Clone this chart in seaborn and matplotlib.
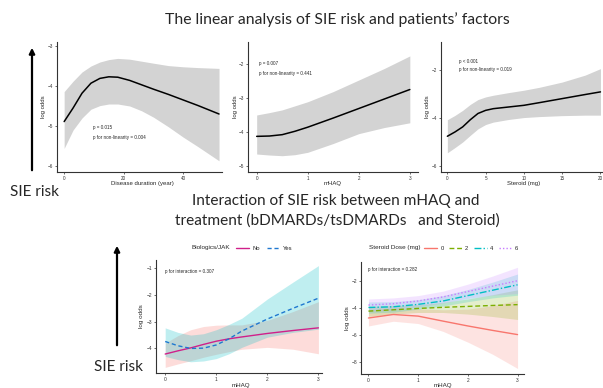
import matplotlib
matplotlib.use("Agg")
import matplotlib.pyplot as plt
import seaborn as sns

# ---- top row: restricted cubic spline fits (log odds) ----
dur_x = [0, 3, 6, 9, 12, 15, 18, 22, 26, 30, 35, 40, 45, 52]
dur_fit = [-4.89, -4.55, -4.18, -3.93, -3.81, -3.77, -3.78, -3.86, -3.97, -4.08, -4.21, -4.35, -4.49, -4.70]
dur_hi = [-4.14, -3.88, -3.65, -3.50, -3.40, -3.34, -3.31, -3.33, -3.38, -3.43, -3.49, -3.52, -3.54, -3.56]
dur_lo = [-5.56, -5.10, -4.80, -4.58, -4.49, -4.45, -4.45, -4.50, -4.62, -4.78, -5.02, -5.28, -5.52, -5.87]

haq_x = [0, 0.25, 0.5, 0.75, 1, 1.5, 2, 2.5, 3]
haq_fit = [-4.12, -4.11, -4.07, -3.97, -3.85, -3.58, -3.30, -3.02, -2.74]
haq_hi = [-3.49, -3.42, -3.34, -3.22, -3.10, -2.80, -2.46, -2.12, -1.75]
haq_lo = [-4.64, -4.67, -4.69, -4.66, -4.59, -4.33, -4.04, -3.86, -3.72]

ster_x = [0, 1, 2, 3, 4, 5, 6, 8, 10, 12, 15, 18, 20]
ster_fit = [-4.75, -4.57, -4.36, -4.06, -3.80, -3.67, -3.60, -3.53, -3.46, -3.35, -3.18, -3.01, -2.90]
ster_hi = [-4.06, -3.88, -3.67, -3.42, -3.22, -3.11, -3.04, -2.93, -2.83, -2.71, -2.49, -2.20, -1.93]
ster_lo = [-5.44, -5.22, -4.99, -4.71, -4.44, -4.26, -4.16, -4.05, -3.97, -3.93, -3.89, -3.87, -3.87]

# ---- bottom left: mHAQ x Biologics/JAK ----
bio_x = [0, 0.25, 0.5, 0.75, 1, 1.25, 1.5, 2, 2.5, 3]
no_fit = [-4.21, -4.09, -3.98, -3.85, -3.73, -3.64, -3.57, -3.44, -3.33, -3.23]
no_hi = [-3.80, -3.52, -3.30, -3.18, -3.13, -3.12, -3.12, -2.95, -2.62, -2.25]
no_lo = [-4.71, -4.58, -4.46, -4.33, -4.22, -4.12, -4.03, -3.96, -4.03, -4.20]
yes_fit = [-3.74, -3.90, -4.00, -3.99, -3.87, -3.64, -3.35, -2.90, -2.50, -2.12]
yes_hi = [-3.23, -3.40, -3.50, -3.45, -3.30, -3.10, -2.87, -2.15, -1.52, -0.90]
yes_lo = [-4.30, -4.42, -4.50, -4.47, -4.38, -4.20, -3.96, -3.58, -3.40, -3.28]

# ---- bottom right: mHAQ x steroid dose ----
dose_x = [0, 0.5, 1, 1.5, 2, 2.5, 3]
dose_levels = ["0", "2", "4", "6"]
dose_fit = {
    "0": [-4.71, -4.45, -4.57, -4.94, -5.30, -5.63, -5.94],
    "2": [-4.20, -4.10, -4.00, -3.92, -3.85, -3.78, -3.72],
    "4": [-3.93, -3.88, -3.70, -3.45, -3.05, -2.65, -2.25],
    "6": [-3.75, -3.65, -3.45, -3.15, -2.75, -2.35, -1.95],
}
dose_hi = {
    "0": [-4.12, -3.98, -4.02, -4.10, -4.05, -3.80, -3.40],
    "2": [-3.85, -3.78, -3.72, -3.55, -3.30, -2.98, -2.62],
    "4": [-3.52, -3.50, -3.35, -3.05, -2.60, -2.05, -1.45],
    "6": [-3.30, -3.22, -3.05, -2.72, -2.20, -1.60, -0.95],
}
dose_lo = {
    "0": [-5.30, -4.95, -5.12, -5.70, -6.50, -7.40, -8.45],
    "2": [-4.58, -4.42, -4.30, -4.30, -4.42, -4.60, -4.82],
    "4": [-4.35, -4.28, -4.05, -3.82, -3.50, -3.22, -3.02],
    "6": [-4.20, -4.10, -3.88, -3.60, -3.25, -3.02, -2.90],
}
dose_colors = {"0": "#F8766D", "2": "#7CAE00", "4": "#00BFC4", "6": "#C77CFF"}
dose_dashes = {"0": "-", "2": (0, (3.5, 2)), "4": (0, (5, 1.5, 1, 1.5)), "6": (0, (1, 1.5))}

sns.set_style("ticks")
plt.rcParams["font.family"] = ["Liberation Sans", "DejaVu Sans"]
TITLE_FONT = ["Lato", "DejaVu Sans"]

W, H = 603, 388
fig = plt.figure(figsize=(W / 100, H / 100), dpi=100)

# overlay axes in pixel coordinates for titles, arrows, notes and label placement
ov = fig.add_axes([0, 0, 1, 1])
ov.set_xlim(0, W)
ov.set_ylim(H, 0)
ov.axis("off")
ov.set_zorder(10)


def panel(l, r, t, b):
    return fig.add_axes([l / W, 1 - b / H, (r - l) / W, (b - t) / H])


def style(ax, xlim, ylim, xticks, yticks, xlabel, xlab_pos, ylab_x, fs):
    ax.set_xlim(xlim)
    ax.set_ylim(ylim)
    ax.set_xticks(xticks)
    ax.set_yticks(yticks)
    sns.despine(ax=ax)
    for s in ["left", "bottom"]:
        ax.spines[s].set_linewidth(0.8)
        ax.spines[s].set_color("#333333")
    ax.tick_params(labelsize=fs, length=1.5, width=0.5, pad=1.2, colors="#333333")
    ax.set_xlabel(xlabel, fontsize=fs + 1, va="center")
    ax.set_ylabel("log odds", fontsize=fs + 1, va="center")
    ax.xaxis.set_label_coords(xlab_pos[0], xlab_pos[1], transform=ov.transData)
    bb = ax.get_position()
    ymid = (1 - (bb.y0 + bb.height / 2)) * H
    ax.yaxis.set_label_coords(ylab_x, ymid, transform=ov.transData)


def spline(ax, x, fit, lo, hi):
    ax.fill_between(x, lo, hi, color="#D3D3D3", lw=0)
    sns.lineplot(x=x, y=fit, ax=ax, color="black", lw=1.1)


# top row
ax1 = panel(57, 222, 42, 172)
spline(ax1, dur_x, dur_fit, dur_lo, dur_hi)
style(ax1, (-2.4, 53), (-6.15, -2.9), [0, 20, 40], [-3, -4, -5, -6],
      "Disease duration (year)", (142, 183), 43, 3.3)
ov.text(93, 128, "p = 0.015", fontsize=3.3, va="center")
ov.text(93, 137, "p for non-linearity = 0.004", fontsize=3.3, va="center")

ax2 = panel(248, 418, 42, 172)
spline(ax2, haq_x, haq_fit, haq_lo, haq_hi)
style(ax2, (-0.17, 3.16), (-5.17, -1.34), [0, 1, 2, 3], [-2, -3, -4, -5],
      "mHAQ", (333, 183), 235, 3.3)
ov.text(259, 64, "p = 0.007", fontsize=3.3, va="center")
ov.text(259, 74, "p for non-linearity = 0.441", fontsize=3.3, va="center")

ax3 = panel(441, 602, 42, 172)
spline(ax3, ster_x, ster_fit, ster_lo, ster_hi)
style(ax3, (-0.83, 20.2), (-6.24, -0.82), [0, 5, 10, 15, 20], [-2, -4, -6],
      "Steroid (mg)", (524, 183), 428, 3.3)
ov.text(459, 62, "p < 0.001", fontsize=3.3, va="center")
ov.text(459, 70, "p for non-linearity = 0.019", fontsize=3.3, va="center")

# bottom left
ax4 = panel(156, 322, 260, 373)
ax4.fill_between(bio_x, no_lo, no_hi, color="#F8766D", alpha=0.25, lw=0)
ax4.fill_between(bio_x, yes_lo, yes_hi, color="#00BFC4", alpha=0.25, lw=0)
sns.lineplot(x=bio_x, y=no_fit, ax=ax4, color="#D0208A", lw=1.0, label="No")
sns.lineplot(x=bio_x, y=yes_fit, ax=ax4, color="#1F78D0", lw=1.0, label="Yes",
             linestyle=(0, (3, 2)))
style(ax4, (-0.18, 3.07), (-4.92, -0.69), [0, 1, 2, 3], [-1, -2, -3, -4],
      "mHAQ", (241, 385), 142, 3.5)
ov.text(165, 272, "p for interaction = 0.307", fontsize=3.3, va="center")
ov.text(192, 248, "Biologics/JAK", fontsize=4.6, va="center")
ax4.legend(ncol=2, loc="center left", bbox_to_anchor=(236, 248), bbox_transform=ov.transData,
           frameon=False, fontsize=4.2, handlelength=2.2, handletextpad=0.6,
           columnspacing=1.2, borderpad=0, borderaxespad=0)

# bottom right
ax5 = panel(361, 524, 262, 374)
for d in dose_levels:
    ax5.fill_between(dose_x, dose_lo[d], dose_hi[d], color=dose_colors[d], alpha=0.2, lw=0)
for d in dose_levels:
    sns.lineplot(x=dose_x, y=dose_fit[d], ax=ax5, color=dose_colors[d], lw=1.0,
                 linestyle=dose_dashes[d], label=d)
style(ax5, (-0.15, 3.13), (-8.86, -0.56), [0, 1, 2, 3], [-2, -4, -6, -8],
      "mHAQ", (443, 385), 348, 3.5)
ov.text(368, 270, "p for interaction = 0.282", fontsize=3.3, va="center")
ov.text(369, 248, "Steroid Dose (mg)", fontsize=4.6, va="center")
ax5.legend(ncol=4, loc="center left", bbox_to_anchor=(424, 248), bbox_transform=ov.transData,
           frameon=False, fontsize=4.2, handlelength=2.2, handletextpad=0.6,
           columnspacing=0.9, borderpad=0, borderaxespad=0)

# titles and risk arrows
ov.text(337, 20, "The linear analysis of SIE risk and patients\u2019 factors",
        family=TITLE_FONT, fontsize=11.3, ha="center", va="center")
ov.text(336, 201, "Interaction of SIE risk between mHAQ and",
        family=TITLE_FONT, fontsize=11.1, ha="center", va="center")
ov.text(337, 221, "treatment (bDMARDs/tsDMARDs   and Steroid)",
        family=TITLE_FONT, fontsize=11.1, ha="center", va="center")
for x, y0, y1, ty in [(32, 173, 45, 192), (117, 348, 243, 367)]:
    ov.annotate("", xy=(x, y1), xytext=(x, y0),
                arrowprops=dict(arrowstyle="-|>", lw=1.6, color="black", mutation_scale=8))
    ov.text(x + 2, ty, "SIE risk", family=TITLE_FONT, fontsize=11, ha="center", va="center")

fig.savefig("out.png", dpi=100)
